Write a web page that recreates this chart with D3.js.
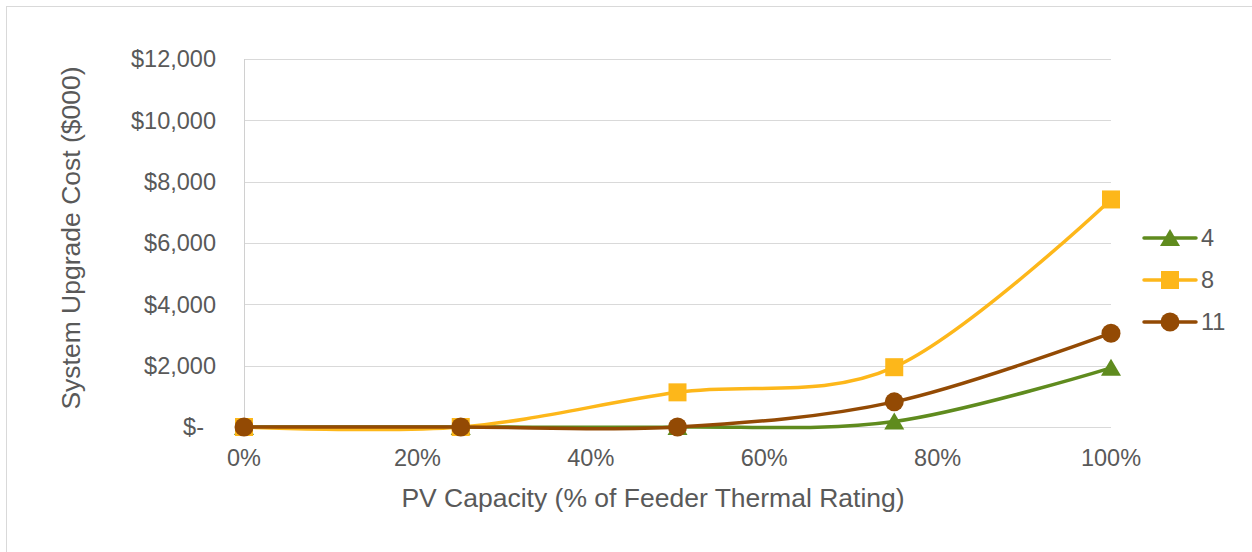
<!DOCTYPE html>
<html><head><meta charset="utf-8">
<script src="https://cdn.jsdelivr.net/npm/d3@7"></script>
<style>body{margin:0;background:#fff;}svg text{font-family:"Liberation Sans",Arial,sans-serif;fill:#595959;}</style>
</head><body>
<svg id="c" width="1252" height="552"></svg>
<script>
const xValues = [0, 0.25, 0.5, 0.75, 1.0];
const seriesNames = ["4", "8", "11"];
const series4 = [0, 0, 0, 180, 1930];
const series8 = [0, 0, 1130, 1950, 7420];
const series11 = [0, 0, 0, 820, 3060];
const yTicks = [0, 2000, 4000, 6000, 8000, 10000, 12000];
const yTickLabels = ["$-", "$2,000", "$4,000", "$6,000", "$8,000", "$10,000", "$12,000"];
const xTicks = [0, 0.2, 0.4, 0.6, 0.8, 1.0];
const xTickLabels = ["0%", "20%", "40%", "60%", "80%", "100%"];
const colors = ["#5F8B1E", "#FDB71A", "#934A04"];
const markers = ["triangle", "square", "circle"];

const svg = d3.select("#c");
svg.append("rect").attr("x", 6.5).attr("y", 6.5).attr("width", 1260).attr("height", 560)
  .attr("fill", "#fff").attr("stroke", "#d9d9d9");

const x = d3.scaleLinear().domain([0, 1]).range([244, 1111]);
const y = d3.scaleLinear().domain([0, 12000]).range([427, 59]);

// gridlines
svg.append("g").selectAll("line").data(yTicks).join("line")
  .attr("x1", 244).attr("x2", 1111)
  .attr("y1", d => Math.round(y(d)) + 0.5).attr("y2", d => Math.round(y(d)) + 0.5)
  .attr("stroke", "#d9d9d9").attr("stroke-width", 1);
// y axis line
svg.append("line").attr("x1", 244.5).attr("x2", 244.5).attr("y1", y(12000)).attr("y2", y(0))
  .attr("stroke", "#d0d0d0");

// y tick labels
svg.append("g").selectAll("text").data(yTicks).join("text")
  .attr("x", (d, i) => i === 0 ? 204 : 216)
  .attr("y", d => y(d)).attr("dy", "0.35em").attr("text-anchor", "end")
  .attr("font-size", 23.5).text((d, i) => yTickLabels[i]);
// x tick labels
svg.append("g").selectAll("text").data(xTicks).join("text")
  .attr("x", d => x(d)).attr("y", 458).attr("dy", "0.35em").attr("text-anchor", "middle")
  .attr("font-size", 23.5).text((d, i) => xTickLabels[i]);

// axis titles
svg.append("text").attr("x", 653).attr("y", 498).attr("dy", "0.35em").attr("text-anchor", "middle")
  .attr("font-size", 26.5).text("PV Capacity (% of Feeder Thermal Rating)");
svg.append("text").attr("transform", "translate(71,238) rotate(-90)").attr("dy", "0.35em")
  .attr("text-anchor", "middle").attr("font-size", 26.5).text("System Upgrade Cost ($000)");

const data = [series4, series8, series11];
const line = d3.line().x((d, i) => x(xValues[i])).y(d => y(d)).curve(d3.curveCatmullRom.alpha(0));

function drawMarker(g, type, cx, cy, color) {
  if (type === "triangle") {
    g.append("path").attr("d", `M${cx},${cy - 9}L${cx + 10},${cy + 8}L${cx - 10},${cy + 8}Z`).attr("fill", color);
  } else if (type === "square") {
    g.append("rect").attr("x", cx - 9).attr("y", cy - 9).attr("width", 18).attr("height", 18).attr("fill", color);
  } else {
    g.append("circle").attr("cx", cx).attr("cy", cy).attr("r", 9.5).attr("fill", color);
  }
}

data.forEach((vals, si) => {
  const g = svg.append("g");
  g.append("path").attr("d", line(vals)).attr("fill", "none").attr("stroke", colors[si])
    .attr("stroke-width", 3.5).attr("stroke-linecap", "round");
  vals.forEach((v, i) => drawMarker(g, markers[si], x(xValues[i]), y(v), colors[si]));
});

// legend
const legY = [238, 280, 322];
seriesNames.forEach((n, i) => {
  const g = svg.append("g");
  g.append("line").attr("x1", 1144).attr("x2", 1196).attr("y1", legY[i]).attr("y2", legY[i])
    .attr("stroke", colors[i]).attr("stroke-width", 3.5).attr("stroke-linecap", "round");
  drawMarker(g, markers[i], 1170, legY[i], colors[i]);
  g.append("text").attr("x", 1201).attr("y", legY[i]).attr("dy", "0.35em").attr("font-size", 23.5).text(n);
});
</script>
</body></html>
